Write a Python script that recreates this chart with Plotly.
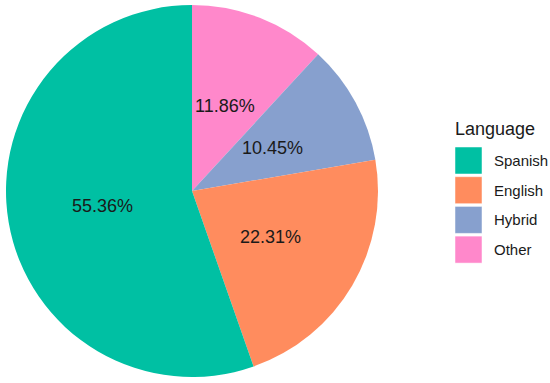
import math
import plotly.graph_objects as go

languages = ["Spanish", "English", "Hybrid", "Other"]
percentages = [55.36, 22.31, 10.45, 11.86]
colors = ["#00C0A3", "#FF8C5E", "#87A0CE", "#FF88CB"]
legend_title = "Language"

W, H = 550, 383
cx, cy, R = 192, 191, 186  # pie centre and radius in pixels

# ggplot draws the slices counter-clockwise from 12 o'clock in legend order;
# in plotly this equals clockwise from 12 o'clock in reversed order.
fig = go.Figure()
fig.add_trace(go.Pie(
    labels=languages[::-1],
    values=percentages[::-1],
    marker=dict(colors=colors[::-1], line=dict(width=0)),
    sort=False,
    direction="clockwise",
    rotation=0,
    textinfo="none",
    hoverinfo="label+percent",
    showlegend=False,
    domain=dict(x=[(cx - R) / W, (cx + R) / W], y=[(H - cy - R) / H, (H - cy + R) / H]),
))

annotations = []
total = sum(percentages)
cum = 0.0
for lab, v in zip(languages, percentages):
    mid = (cum + v / 2) / total
    cum += v
    theta = -2 * math.pi * mid  # counterclockwise from 12 o'clock
    r = 0.49 * R
    px = cx + r * math.sin(theta)
    py = cy - r * math.cos(theta)
    annotations.append(dict(
        x=px / W, y=1 - py / H, xref="paper", yref="paper",
        text=f"{v:.2f}%", showarrow=False,
        font=dict(size=18, color="#1a1a1a", family="Liberation Sans, Arial"),
        xanchor="center", yanchor="middle",
    ))

# legend (ggplot style)
shapes = []
key_x0, key_size, key_gap = 455, 27, 2.7
first_key_top = 147
annotations.append(dict(
    x=453 / W, y=1 - 129 / H, xref="paper", yref="paper",
    text=legend_title, showarrow=False, xanchor="left", yanchor="middle",
    font=dict(size=18, color="#1a1a1a", family="Liberation Sans, Arial"),
))
for i, (lab, col) in enumerate(zip(languages, colors)):
    top = first_key_top + i * (key_size + key_gap)
    shapes.append(dict(
        type="rect", xref="paper", yref="paper",
        x0=key_x0 / W, x1=(key_x0 + key_size) / W,
        y0=1 - (top + key_size) / H, y1=1 - top / H,
        fillcolor=col, line=dict(width=0.5, color="white"),
    ))
    annotations.append(dict(
        x=492 / W, y=1 - (top + key_size / 2) / H, xref="paper", yref="paper",
        text=lab, showarrow=False, xanchor="left", yanchor="middle",
        font=dict(size=15, color="#1a1a1a", family="Liberation Sans, Arial"),
    ))

fig.update_layout(
    width=W, height=H,
    margin=dict(l=0, r=0, t=0, b=0),
    paper_bgcolor="white", plot_bgcolor="white",
    annotations=annotations, shapes=shapes,
    showlegend=False,
    font=dict(family="Liberation Sans, Arial"),
)

fig.write_html(
    "out.html",
    config={"displayModeBar": False},
    post_script="document.body.style.margin='0';document.body.style.padding='0';",
)
